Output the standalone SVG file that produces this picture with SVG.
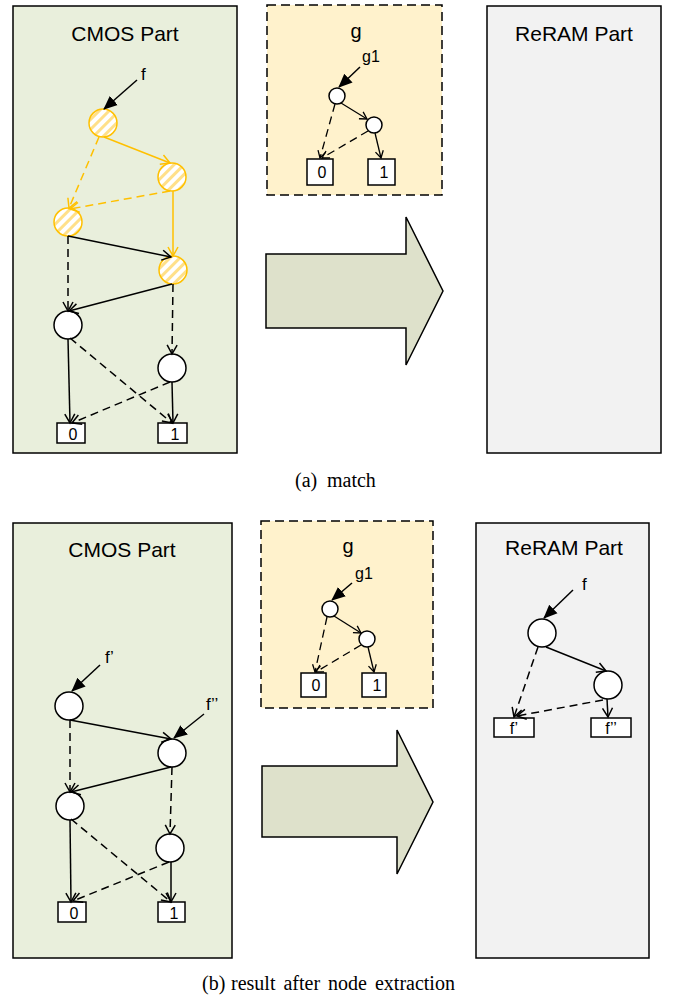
<svg xmlns="http://www.w3.org/2000/svg" width="673" height="1000" viewBox="0 0 673 1000">
<style>
.cmos{fill:#E9EFDC;stroke:#000;stroke-width:1.5}
.reram{fill:#F2F2F2;stroke:#000;stroke-width:1.5}
.gpan{fill:#FFF2CC;stroke:#000;stroke-width:1.5;stroke-dasharray:9 5}
.big{fill:#DEE1CB;stroke:#000;stroke-width:1.5}
.title{font-family:"Liberation Sans",Arial,sans-serif;font-size:21px;fill:#000;text-anchor:middle}
.lbl{font-family:"Liberation Sans",Arial,sans-serif;font-size:17px;fill:#000}
.glbl{font-family:"Liberation Sans",Arial,sans-serif;font-size:16px;fill:#000}
.term{font-family:"Liberation Sans",Arial,sans-serif;font-size:16px;fill:#000;text-anchor:middle}
.cap{font-family:"Liberation Serif","Times New Roman",serif;font-size:20px;fill:#000}
.node{fill:#fff;stroke:#000;stroke-width:1.5}
.hnode{fill:url(#hatch);stroke:#FFC000;stroke-width:1.5}
.box{fill:#fff;stroke:#000;stroke-width:1.5}
.e{fill:none;stroke:#000;stroke-width:1.5;marker-end:url(#chev)}
.d{stroke-dasharray:8 5}
.y{fill:none;stroke:#FFC000;stroke-width:1.5;marker-end:url(#chevY)}
.es{fill:none;stroke:#000;stroke-width:1.3;marker-end:url(#chevS)}
.in{fill:none;stroke:#000;stroke-width:1.5;marker-end:url(#tri)}
</style>
<defs>
<marker id="chev" markerUnits="userSpaceOnUse" markerWidth="12" markerHeight="12" refX="10" refY="6" orient="auto" viewBox="0 0 12 12">
<path d="M1,1 L10,6 L1,11" fill="none" stroke="#000" stroke-width="1.5"/>
</marker>
<marker id="chevY" markerUnits="userSpaceOnUse" markerWidth="12" markerHeight="12" refX="10" refY="6" orient="auto" viewBox="0 0 12 12">
<path d="M1,1 L10,6 L1,11" fill="none" stroke="#FFC000" stroke-width="1.5"/>
</marker>
<marker id="chevS" markerUnits="userSpaceOnUse" markerWidth="10" markerHeight="10" refX="8" refY="5" orient="auto" viewBox="0 0 10 10">
<path d="M1,1 L8,5 L1,9" fill="none" stroke="#000" stroke-width="1.3"/>
</marker>
<marker id="tri" markerUnits="userSpaceOnUse" markerWidth="14" markerHeight="14" refX="13" refY="7" orient="auto" viewBox="0 0 14 14">
<path d="M0,1 L14,7 L0,13 Z" fill="#000"/>
</marker>
<pattern id="hatch" patternUnits="userSpaceOnUse" width="7" height="7" patternTransform="rotate(45)">
<rect width="7" height="7" fill="#fff"/>
<rect width="3" height="7" fill="#FFE08A"/>
</pattern>
</defs>

<!-- (a) panels -->
<g id="a-cmos">
<rect class="cmos" x="13" y="6" width="224" height="447"/>
<text class="title" x="125" y="41">CMOS Part</text>
</g>
<g id="a-g">
<rect class="gpan" x="267" y="5" width="175" height="190"/>
<text class="lbl" x="356" y="38" text-anchor="middle" style="font-size:20px">g</text>
<text class="glbl" x="362" y="62">g1</text>
</g>
<g id="a-reram">
<rect class="reram" x="487" y="6" width="174" height="447"/>
<text class="title" x="574" y="41">ReRAM Part</text>
</g>
<g id="a-arrow">
<path class="big" d="M266,254 L406,254 L406,217 L443,291 L406,365 L406,328 L266,328 Z"/>
</g>

<!-- (a) CMOS nodes -->
<g id="a-f"><text class="lbl" x="141" y="80">f</text></g>
<g id="a-n1"><circle class="hnode" cx="103" cy="123" r="14"/></g>
<g id="a-n2"><circle class="hnode" cx="172" cy="177" r="14"/></g>
<g id="a-n3"><circle class="hnode" cx="68" cy="222" r="14"/></g>
<g id="a-n4"><circle class="hnode" cx="173" cy="270" r="14"/></g>
<g id="a-n5"><circle class="node" cx="68" cy="325" r="14"/></g>
<g id="a-n6"><circle class="node" cx="172" cy="368" r="14"/></g>
<g id="a-t0"><rect class="box" x="57" y="423" width="28" height="20"/><text class="term" x="73" y="440">0</text></g>
<g id="a-t1"><rect class="box" x="158" y="423" width="29" height="20"/><text class="term" x="175" y="440">1</text></g>

<!-- (a) g nodes -->
<g id="a-g1"><circle class="node" cx="337" cy="96" r="8"/></g>
<g id="a-g2"><circle class="node" cx="374" cy="125" r="8"/></g>
<g id="a-g0"><rect class="box" x="307" y="159" width="26" height="26"/><text class="term" x="322" y="178">0</text></g>
<g id="a-gone"><rect class="box" x="368" y="159" width="27" height="26"/><text class="term" x="384" y="178">1</text></g>

<!-- (b) panels -->
<g id="b-cmos">
<rect class="cmos" x="13" y="523" width="219" height="435"/>
<text class="title" x="122" y="557">CMOS Part</text>
</g>
<g id="b-g">
<rect class="gpan" x="261" y="521" width="172" height="187"/>
<text class="lbl" x="348" y="553" text-anchor="middle" style="font-size:20px">g</text>
<text class="glbl" x="355" y="579">g1</text>
</g>
<g id="b-reram">
<rect class="reram" x="476" y="523" width="173" height="435"/>
<text class="title" x="564" y="555">ReRAM Part</text>
</g>
<g id="b-arrow">
<path class="big" d="M262,766 L397,766 L397,730 L433,802 L397,874 L397,837 L262,837 Z"/>
</g>

<!-- (b) CMOS nodes -->
<g id="b-fp"><text class="lbl" x="105" y="663">f’</text></g>
<g id="b-fpp"><text class="lbl" x="206" y="710">f’’</text></g>
<g id="b-nA"><circle class="node" cx="69" cy="706" r="14"/></g>
<g id="b-nB"><circle class="node" cx="172" cy="753" r="14"/></g>
<g id="b-nC"><circle class="node" cx="70" cy="806" r="14"/></g>
<g id="b-nD"><circle class="node" cx="170" cy="848" r="14"/></g>
<g id="b-t0"><rect class="box" x="58" y="902" width="28" height="20"/><text class="term" x="74" y="919">0</text></g>
<g id="b-t1"><rect class="box" x="158" y="902" width="27" height="20"/><text class="term" x="174" y="919">1</text></g>

<!-- (b) g nodes -->
<g id="b-g1"><circle class="node" cx="330" cy="609" r="8"/></g>
<g id="b-g2"><circle class="node" cx="367" cy="639" r="8"/></g>
<g id="b-g0"><rect class="box" x="301" y="673" width="25" height="24"/><text class="term" x="316" y="691">0</text></g>
<g id="b-gone"><rect class="box" x="362" y="673" width="24" height="24"/><text class="term" x="377" y="691">1</text></g>

<!-- (b) ReRAM nodes -->
<g id="b-f"><text class="lbl" x="582" y="590">f</text></g>
<g id="b-r1"><circle class="node" cx="542" cy="633" r="14"/></g>
<g id="b-r2"><circle class="node" cx="608" cy="685" r="14"/></g>
<g id="b-rfp"><rect class="box" x="494" y="718" width="40" height="19"/><text class="term" x="514" y="734">f’</text></g>
<g id="b-rfpp"><rect class="box" x="591" y="718" width="40" height="19"/><text class="term" x="611" y="734">f’’</text></g>

<!-- connectors -->
<g id="connectors">
<!-- (a) CMOS -->
<path class="in" d="M137,80 L104,109"/>
<path class="y" d="M104,137 L170,163"/>
<path class="y d" d="M99,137 L69,208"/>
<path class="y d" d="M170,191 L70,209"/>
<path class="y" d="M173,191 L173,256"/>
<path class="e" d="M68,236 L171,257"/>
<path class="e d" d="M68,236 L68,311"/>
<path class="e" d="M172,284 L69,311"/>
<path class="e d" d="M173,284 L172,354"/>
<path class="e" d="M68,339 L70,423"/>
<path class="e d" d="M70,338 L172,423"/>
<path class="e d" d="M170,382 L72,423"/>
<path class="e" d="M172,382 L173,423"/>
<!-- (a) g -->
<path class="in" d="M360,67 L339,87"/>
<path class="es" d="M341,103 L367,119"/>
<path class="es d" d="M335,104 L320,158"/>
<path class="es d" d="M368,131 L322,158"/>
<path class="es" d="M375,133 L381,158"/>
<!-- (b) CMOS -->
<path class="in" d="M100,665 L72,691"/>
<path class="in" d="M204,714 L174,738"/>
<path class="e" d="M70,720 L171,739"/>
<path class="e d" d="M70,720 L70,792"/>
<path class="e" d="M171,767 L71,792"/>
<path class="e d" d="M172,767 L170,834"/>
<path class="e" d="M70,820 L71,902"/>
<path class="e d" d="M71,819 L171,902"/>
<path class="e d" d="M169,862 L73,901"/>
<path class="e" d="M171,862 L171,902"/>
<!-- (b) g -->
<path class="in" d="M352,583 L332,600"/>
<path class="es" d="M334,616 L361,633"/>
<path class="es d" d="M327,617 L315,672"/>
<path class="es d" d="M361,645 L316,672"/>
<path class="es" d="M368,647 L374,672"/>
<!-- (b) ReRAM -->
<path class="in" d="M573,590 L544,618"/>
<path class="e" d="M546,647 L606,671"/>
<path class="e d" d="M538,647 L514,717"/>
<path class="e d" d="M603,700 L517,716"/>
<path class="e" d="M607,699 L608,717"/>
</g>

<!-- captions -->
<text class="cap" y="487"><tspan x="295">(a)</tspan><tspan x="327">match</tspan></text>
<text class="cap" y="990" style="word-spacing:3px"><tspan x="202">(b)</tspan><tspan x="231">result after node extraction</tspan></text>
</svg>
